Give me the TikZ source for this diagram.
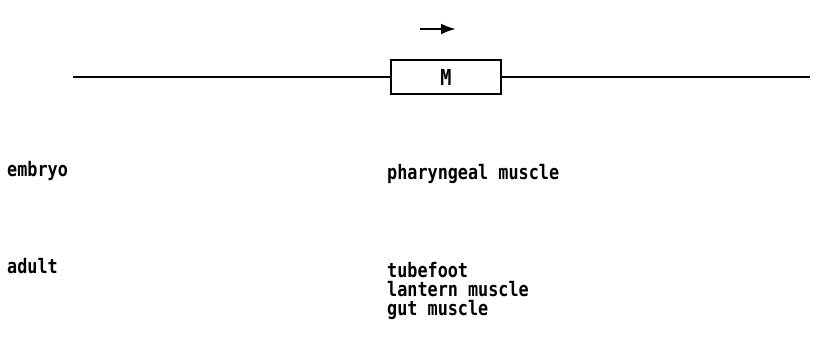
\documentclass[tikz,border=0pt]{standalone}
\usepackage{fontspec}
\newfontfamily\plotfont[FakeStretch=0.84]{DejaVu Sans Mono Bold}
\usetikzlibrary{arrows.meta}
\begin{document}
\begin{tikzpicture}[x=1pt,y=-1pt,
  lbl/.style={inner sep=0pt,anchor=base west,text height=12pt,text depth=2pt,font=\plotfont\fontsize{20}{20}\selectfont},
  wire/.style={line width=2.4pt},
  genebox/.style={draw,line width=2.8pt,minimum width=110pt,minimum height=34pt,inner sep=0pt,font=\plotfont\fontsize{22}{22}\selectfont}]
\useasboundingbox (0,0) rectangle (817,350);
\node[genebox] (M) at (446,77) {M};
\coordinate (L) at (73,77);
\coordinate (R) at (810,77);
\draw[wire] (L) -- (M.west);
\draw[wire] (M.east) -- (R);
\coordinate (a1) at (420,29);
\coordinate (a2) at (456,29);
\draw[line width=2.6pt,-{Latex[length=15pt,width=11pt]}] (a1) -- (a2);
\node[lbl] (emb) at (7,176) {embryo};
\node[lbl] (adu) at (7,273) {adult};
\node[lbl] (phm) at (387,180) {pharyngeal muscle};
\node[lbl] (tub) at (387,277) {tubefoot};
\node[lbl] (lan) at (387,296) {lantern muscle};
\node[lbl] (gut) at (387,315) {gut muscle};
\end{tikzpicture}
\end{document}
